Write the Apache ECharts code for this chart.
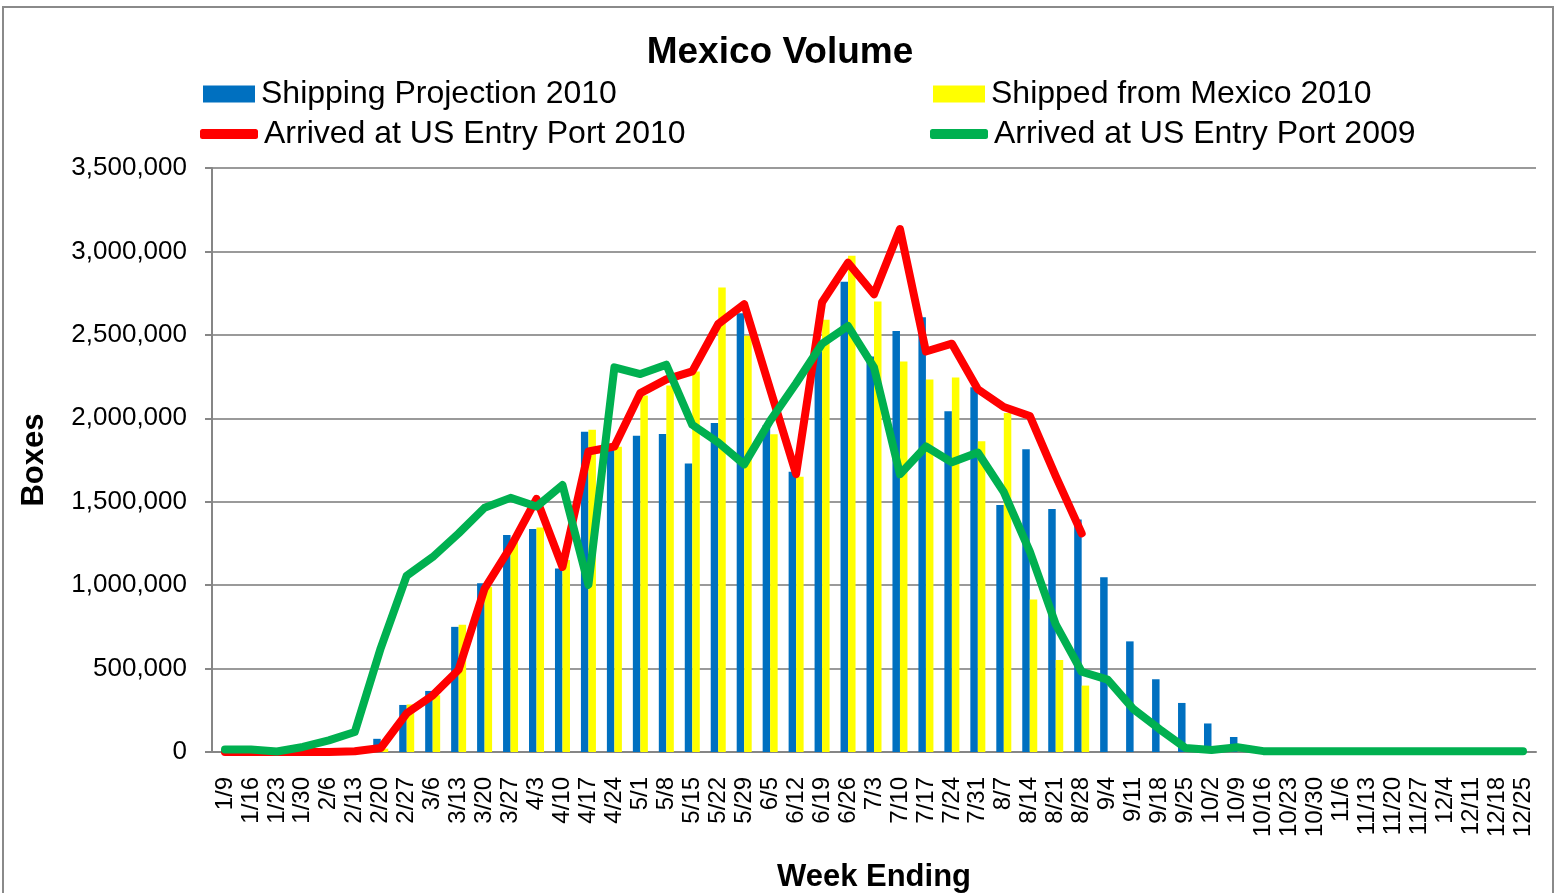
<!DOCTYPE html>
<html>
<head>
<meta charset="utf-8">
<title>Mexico Volume</title>
<script src="https://cdn.jsdelivr.net/npm/echarts@6/dist/echarts.min.js"></script>
<style>
html, body { margin: 0; padding: 0; background: #fff; }
#main { width: 1560px; height: 893px; }
</style>
</head>
<body>
<div id="main"></div>
<script>
// week ending dates
var weeks = ['1/9','1/16','1/23','1/30','2/6','2/13','2/20','2/27','3/6','3/13','3/20','3/27',
    '4/3','4/10','4/17','4/24','5/1','5/8','5/15','5/22','5/29','6/5','6/12','6/19','6/26',
    '7/3','7/10','7/17','7/24','7/31','8/7','8/14','8/21','8/28','9/4','9/11','9/18','9/25',
    '10/2','10/9','10/16','10/23','10/30','11/6','11/13','11/20','11/27','12/4','12/11','12/18','12/25'];

var projection2010 = [null,null,null,null,null,null,79000,282000,366000,750000,1011000,1300000,
    1336000,1100000,1920000,1820000,1896000,1906000,1729000,1971000,2630000,1960000,1680000,2400000,2818000,
    2370000,2523000,2606000,2042000,2186000,1480000,1814000,1457000,1393000,1047000,663000,436000,294000,
    171000,90000,null,null,null,null,null,null,null,null,null,null,null];

var shipped2010 = [null,null,null,null,null,null,20000,285000,340000,762000,990000,1270000,
    1346000,1150000,1932000,1830000,2136000,2196000,2281000,2784000,2494000,1904000,1650000,2590000,2974000,
    2700000,2340000,2233000,2245000,1862000,2032000,914000,552000,398000,null,null,null,null,
    null,null,null,null,null,null,null,null,null,null,null,null,null];

var arrived2010 = [0,0,0,0,0,5000,24000,232000,339000,493000,979000,1228000,
    1517000,1109000,1801000,1831000,2151000,2233000,2281000,2565000,2684000,2174000,1665000,2695000,2932000,
    2743000,3134000,2400000,2447000,2174000,2068000,2014000,1653000,1310000,null,null,null,null,
    null,null,null,null,null,null,null,null,null,null,null,null,null];

var arrived2009 = [15000,15000,3000,30000,70000,120000,623000,1057000,1168000,1310000,1464000,1523000,
    1471000,1600000,1002000,2305000,2265000,2321000,1961000,1855000,1724000,1985000,2210000,2447000,2553000,
    2305000,1665000,1831000,1736000,1795000,1558000,1203000,765000,481000,434000,256000,137000,24000,
    12000,28000,5000,5000,5000,5000,5000,5000,5000,5000,5000,5000,5000];

var yTicks = [0, 500000, 1000000, 1500000, 2000000, 2500000, 3000000, 3500000];

var font = 'Liberation Sans, Arial, sans-serif';
var axisGray = '#868686';

var myChart = echarts.init(document.getElementById('main'));

function legendAt(name, left, top, icon, w, h) {
    return {
        data: [name],
        left: left,
        top: top,
        icon: icon,
        itemWidth: w,
        itemHeight: h,
        padding: 0,
        selectedMode: false,
        textStyle: { fontFamily: font, fontSize: 32, color: '#000', padding: [0, 0, 0, 1] }
    };
}

var option = {
    backgroundColor: '#fff',
    animation: false,
    title: {
        text: 'Mexico Volume',
        left: 'center',
        top: 29,
        textStyle: { fontFamily: font, fontSize: 37, fontWeight: 'bold', color: '#000' }
    },
    legend: [
        legendAt('Shipping Projection 2010', 203, 78, 'rect', 52, 17),
        legendAt('Shipped from Mexico 2010', 933, 78, 'rect', 52, 17),
        legendAt('Arrived at US Entry Port 2010', 200, 118, 'roundRect', 58, 10),
        legendAt('Arrived at US Entry Port 2009', 930, 118, 'roundRect', 58, 10)
    ],
    graphic: [{
        type: 'rect',
        shape: { x: 3, y: 7, width: 1550, height: 900 },
        style: { fill: 'none', stroke: '#8a8a8a', lineWidth: 2 },
        silent: true
    }],
    grid: {
        left: 212,
        right: 24,
        top: 168,
        bottom: 141,
        outerBoundsMode: 'none',
        containLabel: false
    },
    xAxis: {
        type: 'category',
        data: weeks,
        name: 'Week Ending',
        nameLocation: 'middle',
        nameGap: 110,
        nameTextStyle: { fontFamily: font, fontSize: 31, fontWeight: 'bold', color: '#000' },
        axisLine: { lineStyle: { color: axisGray, width: 2 } },
        axisTick: { alignWithLabel: false, length: 6, lineStyle: { color: axisGray, width: 2 } },
        axisLabel: {
            interval: 0,
            rotate: 90,
            margin: 25,
            fontFamily: font,
            fontSize: 24,
            color: '#000'
        }
    },
    yAxis: {
        type: 'value',
        min: yTicks[0],
        max: yTicks[yTicks.length - 1],
        interval: 500000,
        name: 'Boxes',
        nameLocation: 'middle',
        nameRotate: 90,
        nameGap: 162,
        nameTextStyle: { fontFamily: font, fontSize: 31, fontWeight: 'bold', color: '#000' },
        axisLine: { show: true, lineStyle: { color: axisGray, width: 2 } },
        axisTick: { show: true, length: 7, lineStyle: { color: axisGray, width: 2 } },
        splitLine: { lineStyle: { color: '#9a9a9a', width: 2 } },
        axisLabel: {
            margin: 25,
            fontFamily: font,
            fontSize: 26,
            color: '#000',
            formatter: function (v) { return v.toLocaleString('en-US'); }
        }
    },
    series: [
        {
            name: 'Shipping Projection 2010',
            type: 'bar',
            data: projection2010,
            barWidth: 7.5,
            barGap: '0%',
            itemStyle: { color: '#0070C0' }
        },
        {
            name: 'Shipped from Mexico 2010',
            type: 'bar',
            data: shipped2010,
            barWidth: 7.5,
            barGap: '0%',
            itemStyle: { color: '#FFFF00' }
        },
        {
            name: 'Arrived at US Entry Port 2010',
            type: 'line',
            data: arrived2010,
            symbol: 'none',
            itemStyle: { color: '#FF0000' },
            lineStyle: { color: '#FF0000', width: 8, cap: 'round', join: 'round' }
        },
        {
            name: 'Arrived at US Entry Port 2009',
            type: 'line',
            data: arrived2009,
            symbol: 'none',
            itemStyle: { color: '#00B050' },
            lineStyle: { color: '#00B050', width: 8, cap: 'round', join: 'round' }
        }
    ]
};

myChart.setOption(option);
</script>
</body>
</html>
